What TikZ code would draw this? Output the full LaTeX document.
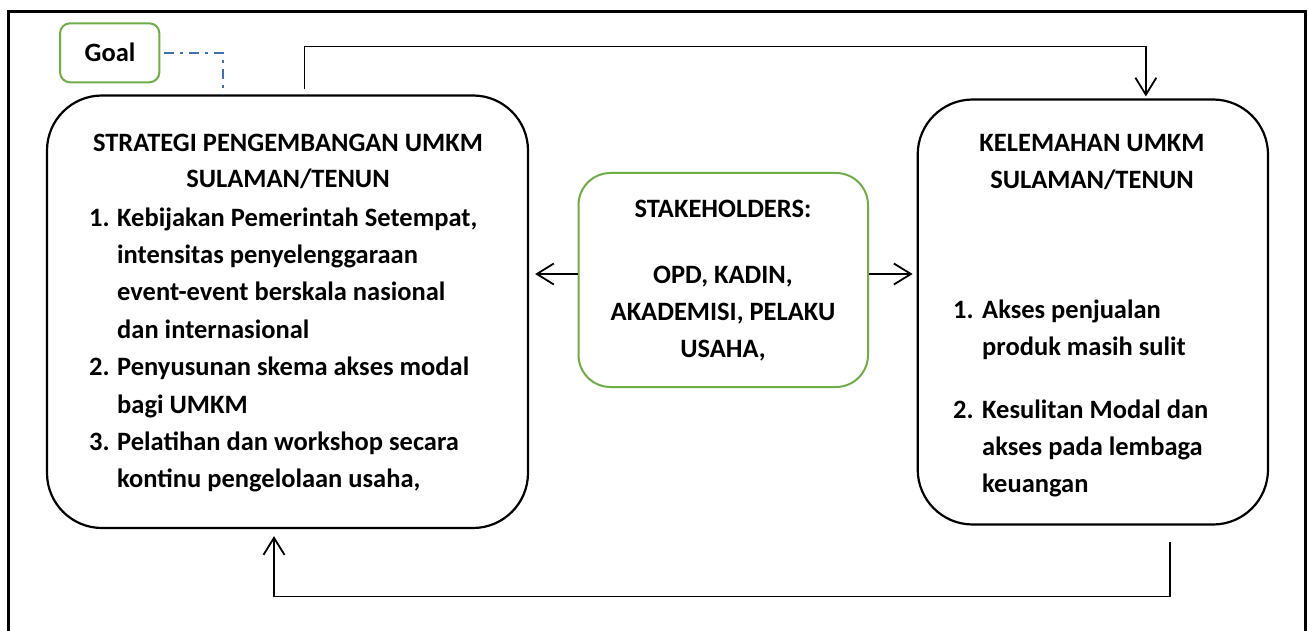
\documentclass[tikz,border=0pt]{standalone}
\usepackage{fontspec}
\setmainfont{Carlito}
\usetikzlibrary{arrows.meta}
\definecolor{gboxc}{RGB}{112,173,71}
\definecolor{dashc}{RGB}{65,113,176}
\tikzset{
  bigbox/.style={draw=black, line width=2.2pt, rounded corners=55pt, inner sep=0pt},
  greenbox/.style={draw=gboxc, line width=2pt, inner sep=0pt},
  txt/.style={font=\bfseries\fontsize{26.5}{32}\selectfont, inner sep=0pt, anchor=base west},
  ctxt/.style={font=\bfseries\fontsize{26.5}{32}\selectfont, inner sep=0pt, anchor=base},
  conn/.style={line width=1.5pt, -{Straight Barb[length=17pt,width=21pt,line width=1.8pt]}},
  dashdotline/.style={draw=dashc, line width=1.6pt, dash pattern=on 10pt off 6pt on 3pt off 6pt}
}
\begin{document}
\begin{tikzpicture}[x=1pt,y=-1pt]
\useasboundingbox (0,0) rectangle (1309,631);
\fill[white] (0,0) rectangle (1309,631);
% outer frame
\coordinate (fbl) at (8.7,632);
\coordinate (ftl) at (8.7,11.3);
\coordinate (ftr) at (1305.5,11.3);
\coordinate (fbr) at (1305.5,632);
\draw[line width=2.5pt] (fbl) -- (ftl) -- (ftr) -- (fbr);
% boxes
\node[bigbox, minimum width=481pt, minimum height=432.5pt] (L) at (287.5,311.75) {};
\node[bigbox, rounded corners=55pt, minimum width=350.3pt, minimum height=425pt] (R) at (1092.85,312) {};
\node[greenbox, rounded corners=32pt, minimum width=289.5pt, minimum height=214pt] (C) at (723.25,280) {};
\node[greenbox, rounded corners=10pt, minimum width=99.3pt, minimum height=59pt] (G) at (109.7,52.8) {};
% Goal text
\node[ctxt] (gt) at (110,62) {Goal};
% left box text
\node[ctxt] (lt1) at (288,152) {STRATEGI PENGEMBANGAN UMKM};
\node[ctxt] (lt2) at (288,188) {SULAMAN/TENUN};
\node[txt] (ln1) at (89,226) {1.};
\node[txt] (la1) at (117,226) {Kebijakan Pemerintah Setempat,};
\node[txt] (la2) at (117,263.4) {intensitas penyelenggaraan};
\node[txt] (la3) at (117,300.8) {event-event berskala nasional};
\node[txt] (la4) at (117,338.2) {dan internasional};
\node[txt] (ln2) at (89,375.6) {2.};
\node[txt] (lb1) at (117,375.6) {Penyusunan skema akses modal};
\node[txt] (lb2) at (117,413) {bagi UMKM};
\node[txt] (ln3) at (89,450.4) {3.};
\node[txt] (lc1) at (117,450.4) {Pelatihan dan workshop secara};
\node[txt] (lc2) at (117,487.8) {kontinu pengelolaan usaha,};
% center text
\node[ctxt] (ct1) at (723,218) {STAKEHOLDERS:};
\node[ctxt] (ct2) at (723,283) {OPD, KADIN,};
\node[ctxt] (ct3) at (723,320) {AKADEMISI, PELAKU};
\node[ctxt] (ct4) at (723,357) {USAHA,};
% right box text
\node[ctxt] (rt1) at (1092,152) {KELEMAHAN UMKM};
\node[ctxt] (rt2) at (1092,189) {SULAMAN/TENUN};
\node[txt] (rn1) at (953,318) {1.};
\node[txt] (ra1) at (982,318) {Akses penjualan};
\node[txt] (ra2) at (982,355) {produk masih sulit};
\node[txt] (rn2) at (953,418) {2.};
\node[txt] (rb1) at (982,418) {Kesulitan Modal dan};
\node[txt] (rb2) at (982,455) {akses pada lembaga};
\node[txt] (rb3) at (982,492) {keuangan};
% goal dash-dot connector
\draw[dashdotline, shorten <=4pt] (G.east) -| ([xshift=-64.5pt]L.north);
% side arrows
\coordinate (cw) at ([yshift=6pt]C.west);
\coordinate (ce) at ([yshift=6pt]C.east);
\draw[conn, shorten >=6pt] (cw) -- (L.east |- cw);
\draw[conn, shorten >=4pt] (ce) -- (R.west |- ce);
% top connector
\draw[conn, shorten <=5pt, shorten >=2pt] ([xshift=17pt]L.north) -- ++(0,-48) -| ([xshift=53pt]R.north);
% bottom connector
\draw[conn, shorten <=16pt, shorten >=7pt] ([xshift=77pt]R.south) -- ++(0,71) -| ([xshift=-13.5pt]L.south);
\end{tikzpicture}
\end{document}
